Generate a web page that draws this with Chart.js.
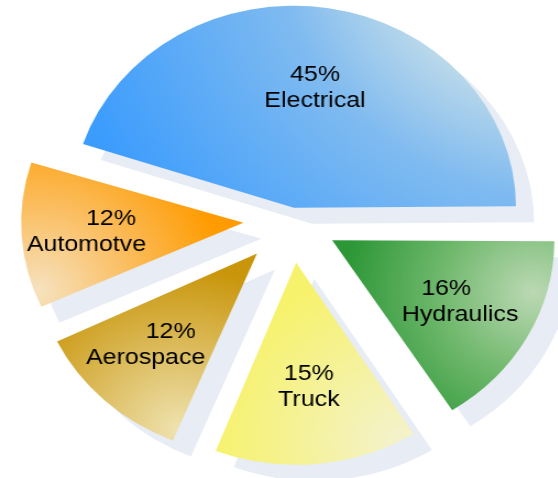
<!DOCTYPE html>
<html>
<head>
<meta charset="utf-8">
<script src="https://cdn.jsdelivr.net/npm/chart.js@4.4.0/dist/chart.umd.min.js"></script>
<style>
  html, body { margin: 0; padding: 0; background: #fff; }
  body { width: 558px; height: 478px; overflow: hidden; }
  /* the original pie is stretched ~10% sideways */
  #wrap { width: 507.27px; height: 478px; transform: scaleX(1.1); transform-origin: 0 0; }
</style>
</head>
<body>
<div id="wrap"><canvas id="pie"></canvas></div>
<script>
// slices, clockwise from 3 o'clock
const categories = ["Hydraulics", "Truck", "Aerospace", "Automotve", "Electrical"];
const shares = [16, 15, 12, 12, 45];

// look of each slice
const darkColors  = ["#2d9737", "#f7f26c", "#c9960b", "#ff9b00", "#3b9cfd"];
const midColors   = ["#6fb86c", "#f5f29c", "#dcbc5e", "#fbbd5e", "#80bbf0"];
const lightColors = ["#bcd9b4", "#f4f2cd", "#efe3b0", "#f6e2bf", "#bfdbea"];
const lightDir    = [16, 62, 112, 160, -48];     // deg, highlight direction from the apex
const lightDist   = [0.94, 1.0, 0.94, 0.98, 1.79];
const lightInner  = [0, 0, 0, 0, 0.75];
const lightSpread = [0.85, 0.85, 0.8, 0.85, 2.3];
const midStop     = [0.5, 0.5, 0.5, 0.5, 0.33];
const explode     = [42, 43, 46, 44, 12.5];      // px the slice is pulled out
const pctShift    = [-12.7, 0, 22.7, 22.3, 0];   // "nn%" line vs name line
const labelDx     = [2, 0, -5.5, -8.5, 0];
const RADIUS = 202;
const SHADOW = "#e7ecf5";
const SHADOW_DX = 16.4, SHADOW_DY = 16;

const sliceFx = {
  id: "sliceFx",
  beforeDatasetsDraw(chart) {
    const ctx = chart.ctx;
    const arcs = chart.getDatasetMeta(0).data;
    arcs.forEach((arc, i) => {
      const d = (arc.options.offset || 0) / 4;
      const circ = arc.endAngle - arc.startAngle;
      // chart.js grows offset slices a bit; undo so they share one radius
      arc.outerRadius = RADIUS - d * (1 - Math.sin(Math.min(Math.PI, circ)));

      const a = lightDir[i] * Math.PI / 180;
      const gx = arc.x + Math.cos(a) * lightDist[i] * RADIUS;
      const gy = arc.y + Math.sin(a) * lightDist[i] * RADIUS;
      const g = ctx.createRadialGradient(gx, gy, lightInner[i] * RADIUS, gx, gy, lightSpread[i] * RADIUS);
      g.addColorStop(0, lightColors[i]);
      g.addColorStop(midStop[i], midColors[i]);
      g.addColorStop(1, darkColors[i]);

      // flat drop shadow
      ctx.save();
      ctx.translate(SHADOW_DX, SHADOW_DY);
      arc.options.backgroundColor = SHADOW;
      arc.draw(ctx);
      ctx.restore();

      arc.options.backgroundColor = g;
    });
  },
  afterDatasetsDraw(chart) {
    const ctx = chart.ctx;
    const arcs = chart.getDatasetMeta(0).data;
    ctx.save();
    ctx.font = "22.7px 'Liberation Sans', Arial, sans-serif";
    ctx.fillStyle = "#000";
    ctx.textAlign = "center";
    ctx.textBaseline = "alphabetic";
    arcs.forEach((arc, i) => {
      const mid = (arc.startAngle + arc.endAngle) / 2;
      const r = (arc.options.offset || 0) / 4 + 0.61 * RADIUS;
      const x = arc.x + Math.cos(mid) * r + labelDx[i];
      const y = arc.y + Math.sin(mid) * r;
      ctx.fillText(shares[i] + "%", x + pctShift[i] / 2, y - 5);
      ctx.fillText(categories[i], x - pctShift[i] / 2, y + 21);
    });
    ctx.restore();
  }
};

new Chart(document.getElementById("pie"), {
  type: "pie",
  data: {
    labels: categories,
    datasets: [{
      data: shares,
      backgroundColor: darkColors.slice(),
      borderWidth: 0,
      offset: explode.map(v => v * 4),
      radius: RADIUS
    }]
  },
  options: {
    responsive: true,
    maintainAspectRatio: false,
    animation: false,
    events: [],
    rotation: 90,
    layout: { padding: { left: 23, right: 0, top: 0, bottom: 38 } },
    plugins: {
      legend: { display: false },
      tooltip: { enabled: false }
    }
  },
  plugins: [sliceFx]
});
</script>
</body>
</html>
